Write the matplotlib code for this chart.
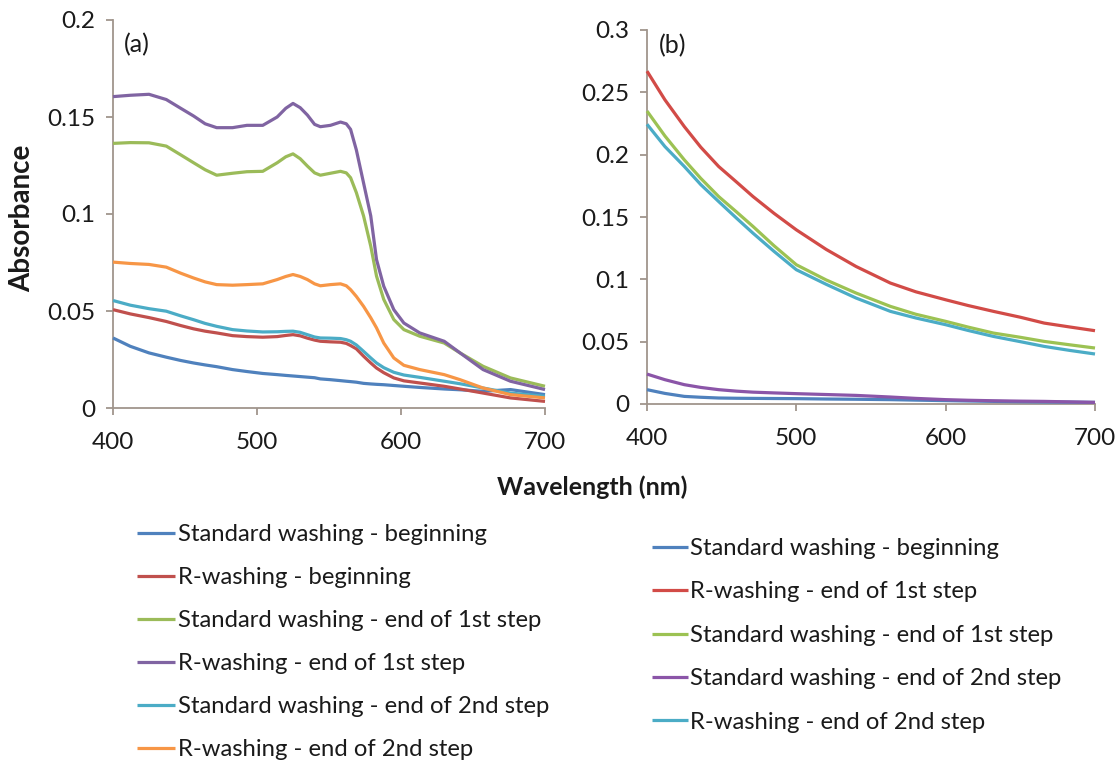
import matplotlib
matplotlib.use("Agg")
import matplotlib.pyplot as plt

plt.rcParams['font.family'] = ['Lato', 'DejaVu Sans']

# ---------------- Panel (a) data ----------------
wl_a = [400, 412, 425, 437, 447, 456, 464, 472, 483, 493, 504, 514, 520, 525, 530,
        535, 540, 544, 551, 558, 562, 565, 569, 574, 579, 583, 588, 595, 602, 613,
        630, 641, 657, 676, 700]

a_std_begin = [0.0361, 0.0318, 0.0284, 0.0262, 0.0245, 0.0232, 0.0222, 0.0213, 0.0198, 0.0188,
               0.0178, 0.0172, 0.0168, 0.0165, 0.0162, 0.0159, 0.0156, 0.0150, 0.0146, 0.0141,
               0.0138, 0.0136, 0.0133, 0.0127, 0.0124, 0.0122, 0.0120, 0.0116, 0.0112, 0.0106,
               0.0098, 0.0094, 0.0086, 0.0095, 0.0069]
a_r_begin = [0.0507, 0.0485, 0.0466, 0.0446, 0.0425, 0.0408, 0.0396, 0.0387, 0.0373, 0.0368,
             0.0365, 0.0368, 0.0374, 0.0378, 0.0372, 0.0360, 0.0350, 0.0344, 0.0341, 0.0339,
             0.0333, 0.0322, 0.0305, 0.0267, 0.0232, 0.0206, 0.0182, 0.0155, 0.0140, 0.0129,
             0.0112, 0.0098, 0.0077, 0.0052, 0.0034]
a_std_end1 = [0.1364, 0.1368, 0.1367, 0.1350, 0.1305, 0.1264, 0.1228, 0.1200, 0.1210, 0.1218,
              0.1220, 0.1264, 0.1295, 0.1310, 0.1285, 0.1247, 0.1212, 0.1200, 0.1210, 0.1220,
              0.1212, 0.1187, 0.1110, 0.0990, 0.0834, 0.0680, 0.0560, 0.0456, 0.0404, 0.0370,
              0.0335, 0.0284, 0.0215, 0.0155, 0.0112]
a_r_end1 = [0.1605, 0.1612, 0.1617, 0.1590, 0.1545, 0.1505, 0.1465, 0.1445, 0.1445, 0.1457,
            0.1457, 0.1500, 0.1545, 0.1570, 0.1548, 0.1510, 0.1462, 0.1450, 0.1457, 0.1474,
            0.1465, 0.1436, 0.1330, 0.1160, 0.0990, 0.0765, 0.0628, 0.0507, 0.0438, 0.0387,
            0.0344, 0.0284, 0.0198, 0.0138, 0.0095]
a_std_end2 = [0.0554, 0.0530, 0.0512, 0.0499, 0.0475, 0.0455, 0.0436, 0.0421, 0.0404, 0.0397,
              0.0392, 0.0393, 0.0395, 0.0396, 0.0390, 0.0378, 0.0366, 0.0361, 0.0360, 0.0358,
              0.0352, 0.0344, 0.0325, 0.0292, 0.0258, 0.0232, 0.0208, 0.0184, 0.0170, 0.0158,
              0.0138, 0.0125, 0.0103, 0.0077, 0.0060]
a_r_end2 = [0.0752, 0.0745, 0.0740, 0.0726, 0.0695, 0.0670, 0.0650, 0.0636, 0.0633, 0.0636,
            0.0640, 0.0662, 0.0678, 0.0688, 0.0678, 0.0662, 0.0640, 0.0630, 0.0636, 0.0640,
            0.0630, 0.0610, 0.0575, 0.0524, 0.0465, 0.0413, 0.0335, 0.0258, 0.0220, 0.0198,
            0.0172, 0.0146, 0.0103, 0.0069, 0.0052]

labels_a = ["Standard washing - beginning", "R-washing - beginning",
            "Standard washing - end of 1st step", "R-washing - end of 1st step",
            "Standard washing - end of 2nd step", "R-washing - end of 2nd step"]
series_a = [a_std_begin, a_r_begin, a_std_end1, a_r_end1, a_std_end2, a_r_end2]
colors_a = ["#4F81BD", "#C0504D", "#9BBB59", "#8064A2", "#4BACC6", "#F79646"]

# ---------------- Panel (b) data ----------------
wl_b = [400, 412, 425, 436, 448, 460, 471, 485, 500, 520, 540, 563, 580, 600, 615, 632, 650, 666, 683, 700]

b_std_begin = [0.0115, 0.0085, 0.0061, 0.0054, 0.0048, 0.0046, 0.0045, 0.0044, 0.0043, 0.0040,
               0.0038, 0.0035, 0.0031, 0.0027, 0.0024, 0.0021, 0.0018, 0.0016, 0.0015, 0.0013]
b_r_end1 = [0.2670, 0.2440, 0.2225, 0.2060, 0.1905, 0.1780, 0.1664, 0.1530, 0.1397, 0.1240,
            0.1103, 0.0970, 0.0900, 0.0836, 0.0790, 0.0743, 0.0696, 0.0649, 0.0618, 0.0588]
b_std_end1 = [0.2350, 0.2150, 0.1958, 0.1810, 0.1664, 0.1540, 0.1424, 0.1270, 0.1117, 0.0995,
              0.0890, 0.0783, 0.0720, 0.0663, 0.0617, 0.0569, 0.0535, 0.0502, 0.0475, 0.0449]
b_std_end2 = [0.0240, 0.0195, 0.0155, 0.0133, 0.0115, 0.0103, 0.0095, 0.0089, 0.0083, 0.0076,
              0.0069, 0.0056, 0.0045, 0.0035, 0.0030, 0.0026, 0.0023, 0.0021, 0.0017, 0.0013]
b_r_end2 = [0.2244, 0.2065, 0.1905, 0.1760, 0.1624, 0.1490, 0.1370, 0.1225, 0.1077, 0.0960,
            0.0850, 0.0743, 0.0690, 0.0636, 0.0590, 0.0542, 0.0500, 0.0462, 0.0430, 0.0401]

labels_b = ["Standard washing - beginning", "R-washing - end of 1st step",
            "Standard washing - end of 1st step", "Standard washing - end of 2nd step",
            "R-washing - end of 2nd step"]
series_b = [b_std_begin, b_r_end1, b_std_end1, b_std_end2, b_r_end2]
colors_b = ["#4F81BD", "#D24B47", "#9CC253", "#8B55A8", "#4BACC6"]

xticks = [400, 500, 600, 700]
yticks_a = [0, 0.05, 0.1, 0.15, 0.2]
yticklabels_a = ["0", "0.05", "0.1", "0.15", "0.2"]
yticks_b = [0, 0.05, 0.1, 0.15, 0.2, 0.25, 0.3]
yticklabels_b = ["0", "0.05", "0.1", "0.15", "0.2", "0.25", "0.3"]

# ---------------- Figure ----------------
W, H = 1120, 762
fig = plt.figure(figsize=(W / 100, H / 100), dpi=100)
fig.patch.set_facecolor("white")

def px_axes(l, t, r, b):
    return fig.add_axes([l / W, 1 - b / H, (r - l) / W, (b - t) / H])

ax_a = px_axes(113, 20, 545, 408)
ax_b = px_axes(647, 30, 1095, 404)

spine_col = "#A0958C"
tick_fs = 17.5

def style(ax, yticks, ylabels, ymax):
    ax.set_xlim(400, 700)
    ax.set_ylim(0, ymax)
    ax.set_xticks(xticks)
    ax.set_xticklabels([str(v) for v in xticks])
    ax.set_yticks(yticks)
    ax.set_yticklabels(ylabels)
    for s in ["top", "right"]:
        ax.spines[s].set_visible(False)
    for s in ["left", "bottom"]:
        ax.spines[s].set_color(spine_col)
        ax.spines[s].set_linewidth(1.3)
    ax.tick_params(axis="both", direction="out", length=5, width=1.3, color=spine_col,
                   labelsize=tick_fs, labelcolor="#1a1a1a")
    ax.tick_params(axis="x", pad=12)
    ax.tick_params(axis="y", pad=8)
    for sp in ax.spines.values():
        sp.set_zorder(0.5)

for y, lab, c in zip(series_a, labels_a, colors_a):
    ax_a.plot(wl_a, y, color=c, lw=2.3, label=lab, solid_capstyle="butt", clip_on=False)
for y, lab, c in zip(series_b, labels_b, colors_b):
    ax_b.plot(wl_b, y, color=c, lw=2.3, label=lab, solid_capstyle="butt", clip_on=False)

style(ax_a, yticks_a, yticklabels_a, 0.2)
style(ax_b, yticks_b, yticklabels_b, 0.3)

ax_a.text(11 / 432, 1 - 25 / 388, "(a)", transform=ax_a.transAxes, fontsize=18, va="center",
          ha="left", color="#1a1a1a")
ax_b.text(12 / 448, 1 - 16 / 374, "(b)", transform=ax_b.transAxes, fontsize=18, va="center",
          ha="left", color="#1a1a1a")

fig.text(22 / W, 1 - 218 / H, "Absorbance", rotation=90, fontsize=20, fontweight="bold",
         ha="center", va="center", color="#1a1a1a")
fig.text(592 / W, 1 - 487 / H, "Wavelength (nm)", fontsize=18, fontweight="bold",
         ha="center", va="center", color="#1a1a1a")

leg_fs = 17.2
la = ax_a.legend(loc="upper left", bbox_to_anchor=(137 / W, 1 - 524 / H),
                 bbox_transform=fig.transFigure, frameon=False, fontsize=leg_fs,
                 handlelength=1.6, handletextpad=0.1, labelspacing=0.92,
                 borderpad=0, borderaxespad=0)
lb = ax_b.legend(loc="upper left", bbox_to_anchor=(652 / W, 1 - 538 / H),
                 bbox_transform=fig.transFigure, frameon=False, fontsize=leg_fs,
                 handlelength=1.5, handletextpad=0.1, labelspacing=0.94,
                 borderpad=0, borderaxespad=0)
for lg in (la, lb):
    for t in lg.get_texts():
        t.set_color("#1a1a1a")

fig.savefig("out.png", dpi=100, facecolor="white")
